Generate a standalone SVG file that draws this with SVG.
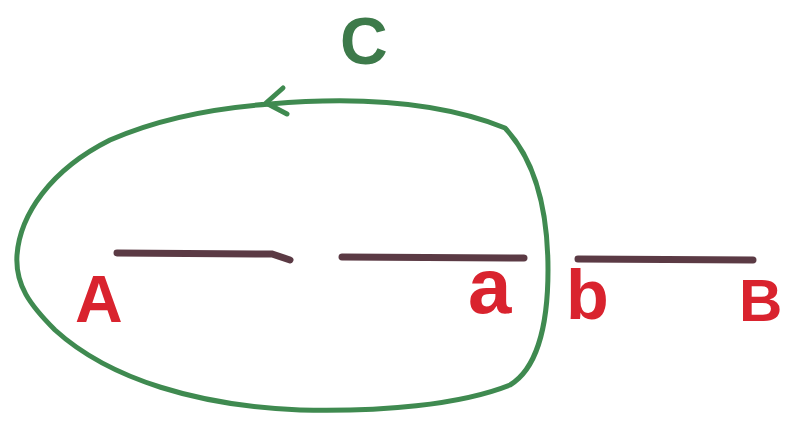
<svg xmlns="http://www.w3.org/2000/svg" width="787" height="433" viewBox="0 0 787 433">
<style>
.loop{fill:none;stroke:#3f8a50;stroke-width:5;stroke-linecap:round;stroke-linejoin:round}
.seg{fill:none;stroke:#5b3a44;stroke-width:7;stroke-linecap:round}
.lbl{font-family:"Liberation Sans",Arial,sans-serif;font-weight:bold;fill:#d9232e}
.c{font-family:"Liberation Sans",Arial,sans-serif;font-weight:bold;fill:#3d7a4a}
</style>
<rect width="787" height="433" fill="#ffffff"/>
<g id="connectors">
<path id="curveC" class="loop" d="M270,104 C340,98 430,98 505,128 C535,160 548,210 548,270 C548,330 535,370 510,385 C460,405 380,412 300,410 C200,406 110,380 55,330 C30,305 15,285 17,255 C20,215 50,170 110,140 C160,118 215,108 270,104 Z"/>
<path class="loop" d="M283,88 L266,103 L287,114"/>
</g>
<g id="segment-Aa1"><path class="seg" d="M117,253 L272,254 L290,260"/></g>
<g id="segment-Aa2"><path class="seg" d="M342,257 L524,258"/></g>
<g id="segment-bB"><path class="seg" d="M578,259 L753,260"/></g>
<g id="label-C"><text class="c" x="340" y="64" font-size="66">C</text></g>
<g id="label-A"><text class="lbl" x="75" y="322" font-size="66">A</text></g>
<g id="label-a"><text class="lbl" x="468" y="313" font-size="78">a</text></g>
<g id="label-b"><text class="lbl" x="566" y="319" font-size="70">b</text></g>
<g id="label-B"><text class="lbl" x="739" y="321" font-size="60">B</text></g>
</svg>
